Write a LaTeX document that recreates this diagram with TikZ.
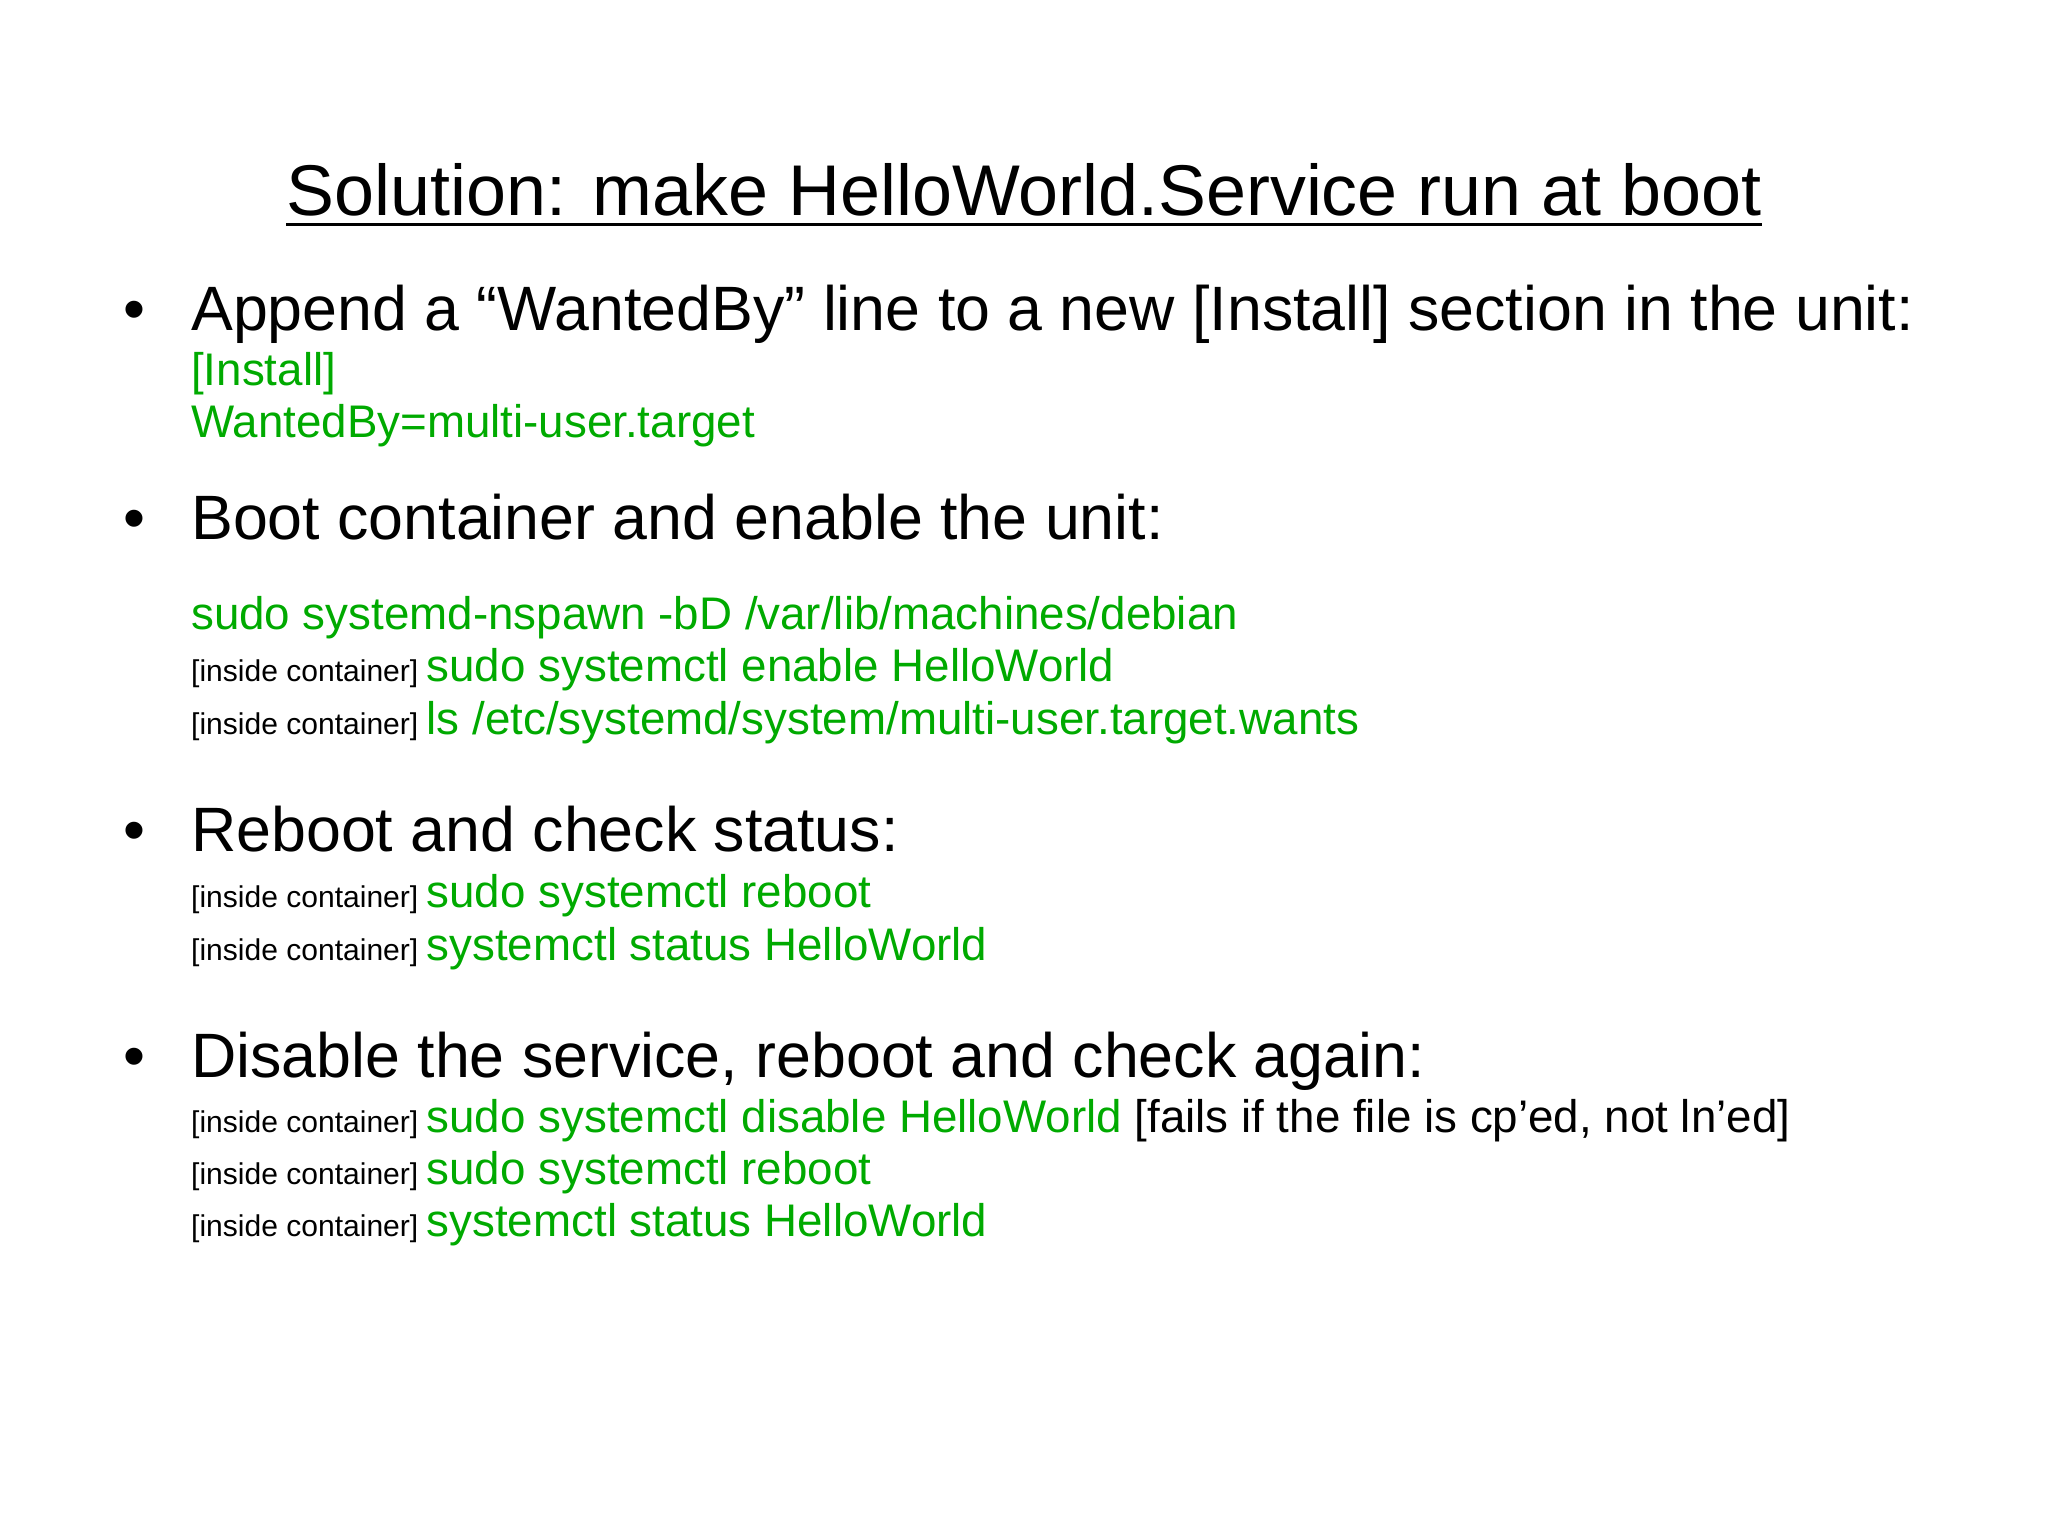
\documentclass[tikz,border=0pt]{standalone}
\usepackage{fontspec}
\setmainfont{Liberation Sans}
\definecolor{cmd}{RGB}{0,170,0}
\begin{document}
\begin{tikzpicture}[x=0.5pt,y=-0.5pt,
  every node/.style={inner sep=0pt,anchor=base west},
  big/.style={font=\fontsize{24}{28}\selectfont},
  grn/.style={font=\fontsize{17.5}{20}\selectfont,text=cmd},
  sm/.style={font=\fontsize{11.5}{14}\selectfont}]
\useasboundingbox[fill=white] (0,0) rectangle (1568,1176);
\node[anchor=base,font=\fontsize{27.5}{32}\selectfont] (title) at (784,165) {Solution: make HelloWorld.Service run at boot};
\draw[line width=1.2pt] ([yshift=-3.5pt]title.base west) -- ([yshift=-3.5pt]title.base east);
\foreach \y/\n in {253/b1,413/b2,652/b3,825/b4}
  \node[big,anchor=base] (\n) at (103,\y) {•};
\node[big] (t1) at (146,253) {Append a “WantedBy” line to a new [Install] section in the unit:};
\node[grn] (c1) at (146,295) {[Install]};
\node[grn] (c2) at (146,335) {WantedBy=multi-user.target};
\node[big] (t2) at (146,413) {Boot container and enable the unit:};
\node[grn] (c3) at (146,482) {sudo systemd-nspawn -bD /var/lib/machines/debian};
\node (c4) at (146,522) {\fontsize{11.5}{14}\selectfont[inside container] \fontsize{17.5}{20}\selectfont\color{cmd}sudo systemctl enable HelloWorld};
\node (c5) at (146,562) {\fontsize{11.5}{14}\selectfont[inside container] \fontsize{17.5}{20}\selectfont\color{cmd}ls /etc/systemd/system/multi-user.target.wants};
\node[big] (t3) at (146,652) {Reboot and check status:};
\node (c6) at (146,695) {\fontsize{11.5}{14}\selectfont[inside container] \fontsize{17.5}{20}\selectfont\color{cmd}sudo systemctl reboot};
\node (c7) at (146,735) {\fontsize{11.5}{14}\selectfont[inside container] \fontsize{17.5}{20}\selectfont\color{cmd}systemctl status HelloWorld};
\node[big] (t4) at (146,825) {Disable the service, reboot and check again:};
\node (c8) at (146,867) {\fontsize{11.5}{14}\selectfont[inside container] \fontsize{17.5}{20}\selectfont{\color{cmd}sudo systemctl disable HelloWorld} [fails if the file is cp'ed, not ln'ed]};
\node (c9) at (146,907) {\fontsize{11.5}{14}\selectfont[inside container] \fontsize{17.5}{20}\selectfont\color{cmd}sudo systemctl reboot};
\node (c10) at (146,947) {\fontsize{11.5}{14}\selectfont[inside container] \fontsize{17.5}{20}\selectfont\color{cmd}systemctl status HelloWorld};
\end{tikzpicture}
\end{document}
